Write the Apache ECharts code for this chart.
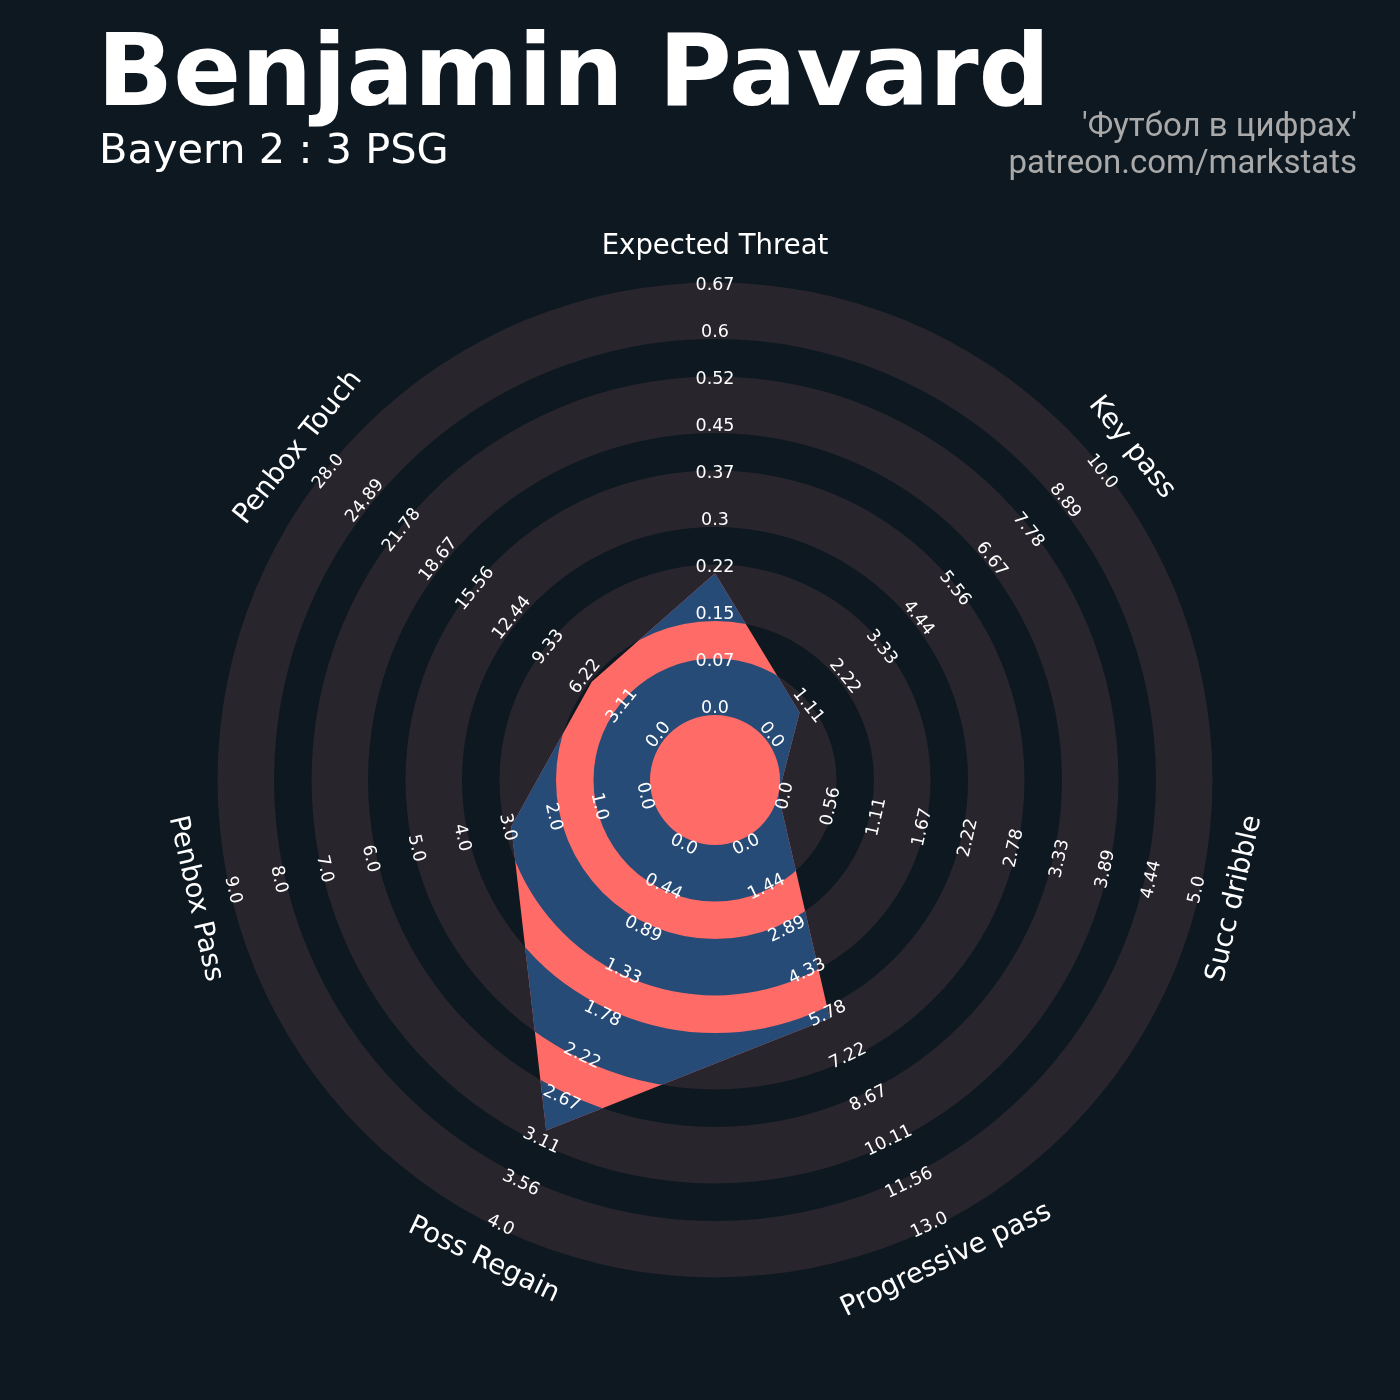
<!DOCTYPE html>
<html>
<head>
<meta charset="utf-8">
<script src="https://cdn.jsdelivr.net/npm/echarts@6.0.0/dist/echarts.min.js"></script>
<style>
  html, body { margin: 0; padding: 0; background: #0e1821; }
  #main { width: 1400px; height: 1400px; }
</style>
</head>
<body>
<div id="main"></div>
<script>
// radar data
const params = ['Expected Threat', 'Key pass', 'Succ dribble', 'Progressive pass', 'Poss Regain', 'Penbox Pass', 'Penbox Touch'];
const values = [0.22, 1.0, 0.0, 6.0, 3.0, 3.0, 6.0];
const lowValues = [0, 0, 0, 0, 0, 0, 0];
const highValues = [0.67, 10.0, 5.0, 13.0, 4.0, 9.0, 28.0];
const rangeLabels = [
  ['0.0', '0.07', '0.15', '0.22', '0.3', '0.37', '0.45', '0.52', '0.6', '0.67'],
  ['0.0', '1.11', '2.22', '3.33', '4.44', '5.56', '6.67', '7.78', '8.89', '10.0'],
  ['0.0', '0.56', '1.11', '1.67', '2.22', '2.78', '3.33', '3.89', '4.44', '5.0'],
  ['0.0', '1.44', '2.89', '4.33', '5.78', '7.22', '8.67', '10.11', '11.56', '13.0'],
  ['0.0', '0.44', '0.89', '1.33', '1.78', '2.22', '2.67', '3.11', '3.56', '4.0'],
  ['0.0', '1.0', '2.0', '3.0', '4.0', '5.0', '6.0', '7.0', '8.0', '9.0'],
  ['0.0', '3.11', '6.22', '9.33', '12.44', '15.56', '18.67', '21.78', '24.89', '28.0']
];

const BG = '#0e1821';
const RING = '#28252c';
const RED = '#ff6b67';
const BLUE = '#264b77';

const N = params.length;
// radius axis works in 0..1 (min value -> edge of centre circle, max -> outer edge)
const SPAN = 432;            // px between centre circle and outer edge
const CENTER_R = 65 / SPAN;  // centre circle, in axis units
const ringStarts = [0, 94, 188, 282, 376].map(v => v / SPAN);
const ringWidth = 56.5 / SPAN;

const norm = values.map((v, i) => (v - lowValues[i]) / (highValues[i] - lowValues[i]));

function geom(p, api) {
  const cx = p.coordSys.cx, cy = p.coordSys.cy;
  const rad = v => {
    const pt = api.coord([v, 0]);
    return Math.hypot(pt[0] - cx, pt[1] - cy);
  };
  return { cx, cy, rad };
}

// keep text readable, same as the python radar
function textRot(i) {
  let rot = i * 360 / N;
  if (rot > 180) rot -= 360;
  if (rot > 90) rot -= 180;
  if (rot < -90) rot += 180;
  return -rot * Math.PI / 180;
}

const chart = echarts.init(document.getElementById('main'));

chart.setOption({
  backgroundColor: BG,
  animation: false,
  polar: { center: [715, 780], radius: 497 },
  angleAxis: { type: 'value', min: 0, max: N, startAngle: 90, clockwise: true, show: false },
  radiusAxis: { type: 'value', min: -CENTER_R, max: 1, show: false },
  graphic: [
    { type: 'text', x: 97, y: 79, style: { text: 'Benjamin Pavard', fill: '#ffffff', font: 'bold 100px "DejaVu Sans"', align: 'left', verticalAlign: 'middle' } },
    { type: 'text', x: 99, y: 152, style: { text: 'Bayern 2 : 3 PSG', fill: '#ffffff', font: '41.5px "DejaVu Sans"', align: 'left', verticalAlign: 'middle' } },
    { type: 'text', x: 1357, y: 128, style: { text: "'Футбол в цифрах'", fill: '#a9a9a9', font: '33px Roboto', align: 'right', verticalAlign: 'middle' } },
    { type: 'text', x: 1357, y: 165, style: { text: 'patreon.com/markstats', fill: '#a9a9a9', font: '33px Roboto', align: 'right', verticalAlign: 'middle' } }
  ],
  series: [
    {
      // grey rings in the background
      type: 'custom',
      coordinateSystem: 'polar',
      silent: true,
      z: 1,
      data: ringStarts.map(r => [r, 0]),
      renderItem: function (p, api) {
        const g = geom(p, api);
        const r0 = api.value(0);
        return {
          type: 'ring',
          shape: { cx: g.cx, cy: g.cy, r0: g.rad(r0), r: g.rad(r0 + ringWidth) },
          style: { fill: RING }
        };
      }
    },
    {
      // radar polygon + rings clipped to it
      type: 'custom',
      coordinateSystem: 'polar',
      silent: true,
      z: 2,
      data: [[0, 0]],
      renderItem: function (p, api) {
        const g = geom(p, api);
        const pts = norm.map((v, i) => api.coord([v, i]));
        const children = [
          { type: 'polygon', shape: { points: pts }, style: { fill: RED } },
          { type: 'circle', shape: { cx: g.cx, cy: g.cy, r: g.rad(0) }, style: { fill: RED } }
        ];
        ringStarts.forEach(r0 => {
          children.push({
            type: 'ring',
            shape: { cx: g.cx, cy: g.cy, r0: g.rad(r0), r: g.rad(r0 + ringWidth) },
            style: { fill: BLUE },
            clipPath: { type: 'polygon', shape: { points: pts } }
          });
        });
        return { type: 'group', children: children };
      }
    },
    {
      // range labels and parameter names
      type: 'custom',
      coordinateSystem: 'polar',
      silent: true,
      z: 5,
      data: params.map((_, i) => [0, i]),
      renderItem: function (p, api) {
        const i = api.value(1);
        const rot = textRot(i);
        const children = rangeLabels[i].map((t, k) => {
          const pos = (7 + k * (429.5 - 7) / 9) / SPAN;
          const pt = api.coord([pos, i]);
          return {
            type: 'text', x: pt[0], y: pt[1], rotation: rot,
            style: { text: t, fill: '#ffffff', font: '17.5px "DejaVu Sans"', align: 'center', verticalAlign: 'middle' }
          };
        });
        const lp = api.coord([468 / SPAN, i]);
        children.push({
          type: 'text', x: lp[0], y: lp[1], rotation: rot,
          style: { text: params[i], fill: '#ffffff', font: '27.5px "DejaVu Sans"', align: 'center', verticalAlign: 'middle' }
        });
        return { type: 'group', children: children };
      }
    }
  ]
});
</script>
</body>
</html>
